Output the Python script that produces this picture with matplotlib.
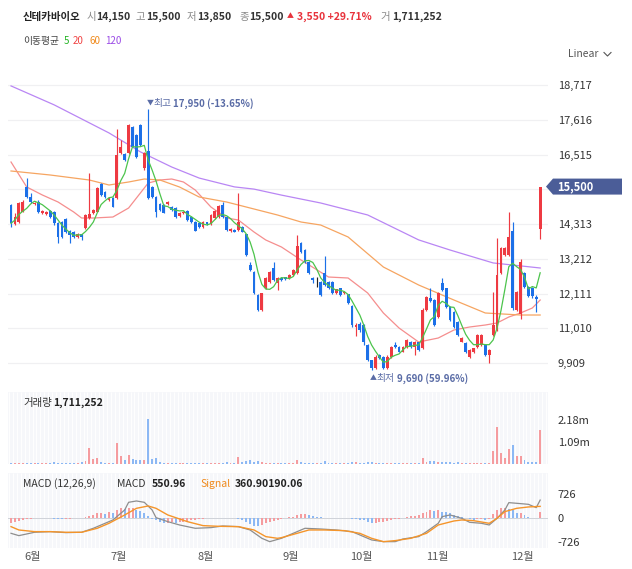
import matplotlib
matplotlib.use("Agg")
import matplotlib.pyplot as plt
from matplotlib.patches import Polygon
from matplotlib.lines import Line2D
import numpy as np
import pandas as pd

plt.rcParams['font.family'] = ['Noto Sans CJK KR', 'DejaVu Sans']

# ---- data (daily candles, won) ----
opens = [14916, 14314, 14388, 14705, 15497, 15180, 14950, 15021, 14652, 14631,
         14726, 14690, 14335, 14388, 14462, 14092, 14071, 13912, 13986, 14176,
         14493, 14652, 14705, 15571, 15338, 15074, 15127, 15127, 16553, 16532,
         16553, 17398, 17134, 17451, 16078, 16627, 15497, 15180, 14948, 14916,
         14948, 14863, 14810, 14567, 14652, 14726, 14546, 14388, 14335, 14229,
         14367, 14314, 14493, 14546, 14916, 14546, 14092, 14124, 14124, 14229,
         13986, 13014, 12803, 12064, 11588, 12275, 12486, 12909, 12434, 12592,
         12624, 12592, 12697, 12750, 13722, 13490, 13120, 12592, 12570, 12486,
         12750, 12486, 12486, 12117, 12275, 12117, 12085, 11720, 11060, 11150,
         11110, 10480, 10000, 9750, 10160, 10110, 9760, 10110, 10480, 10420,
         10270, 10420, 10590, 10430, 10560, 10370, 11590, 11960, 11905, 11377,
         12433, 12275, 11694, 11536, 11219, 10585, 10532, 10110, 10268, 10427,
         10480, 10480, 10163, 10796, 10955, 12751, 13331, 13331, 14100, 11589,
         11450, 12750, 12330, 12300, 12010, 14150]
highs = [14948, 14652, 15021, 15060, 15761, 15307, 15010, 15074, 14760, 14730,
         14757, 14720, 14380, 14420, 14500, 14124, 14100, 14020, 14010, 14630,
         15919, 14800, 15480, 15600, 15370, 15160, 15160, 17314, 16976, 16560,
         17480, 17420, 17160, 17480, 16600, 17950, 15520, 15210, 14980, 14950,
         15050, 14890, 14840, 14680, 14730, 14760, 14570, 14410, 14360, 14410,
         14390, 14620, 14750, 14910, 15021, 14570, 14180, 14150, 15307, 14250,
         14010, 13120, 12830, 12090, 12140, 12620, 12830, 13120, 12620, 12620,
         12650, 12720, 12880, 13965, 13750, 13520, 13150, 12620, 12645, 12510,
         13300, 12510, 12510, 12270, 12300, 12200, 12110, 11750, 11170, 11200,
         11130, 10520, 10020, 10160, 10190, 10140, 10150, 10450, 10580, 10450,
         10450, 10670, 10620, 10620, 10590, 11640, 12040, 12275, 11940, 12150,
         12590, 12300, 11720, 11560, 11240, 10720, 10560, 10350, 10400, 10820,
         10820, 10510, 10350, 12170, 13860, 13570, 13570, 14705, 14390, 12200,
         13200, 12800, 12360, 12330, 12080, 15500]
lows = [14229, 14282, 14350, 14680, 15150, 14990, 14930, 14673, 14630, 14610,
        14500, 14282, 13722, 13860, 14020, 13701, 13880, 13880, 13807, 14140,
        14460, 14620, 14680, 15200, 15150, 15050, 14840, 15100, 16520, 16310,
        16520, 16740, 16420, 16790, 16040, 15100, 15150, 14546, 14730, 14650,
        14920, 14730, 14520, 14540, 14630, 14410, 14360, 14080, 14200, 14200,
        14290, 14290, 14470, 14520, 14520, 14100, 14070, 14050, 14100, 14050,
        13300, 12820, 12090, 11560, 11560, 12250, 12460, 12510, 12222, 12510,
        12540, 12570, 12670, 12720, 13410, 13090, 12720, 12460, 12328, 12040,
        12350, 12250, 12090, 12090, 12040, 12090, 11770, 11060, 10750, 10900,
        10480, 9980, 9690, 9720, 10030, 9720, 9730, 10080, 10400, 10250,
        10250, 10400, 10400, 10160, 10300, 10340, 11560, 11830, 11080, 11340,
        12190, 11660, 11240, 11030, 10770, 10560, 10240, 10080, 10240, 10400,
        10450, 10140, 9898, 10770, 10930, 12720, 13300, 13300, 11600, 11560,
        11300, 12300, 11990, 11980, 11540, 13850]
closes = [14335, 14546, 14969, 15021, 15180, 15021, 14990, 14705, 14726, 14705,
          14525, 14335, 13912, 13912, 14071, 13965, 13912, 13986, 13912, 14599,
          14631, 14757, 15444, 15233, 15180, 15127, 14863, 16500, 16764, 16342,
          17451, 16764, 16448, 16817, 16553, 15127, 15180, 14705, 14757, 14673,
          15021, 14757, 14546, 14652, 14705, 14441, 14388, 14103, 14229, 14388,
          14314, 14599, 14726, 14884, 14546, 14124, 14155, 14071, 14388, 14071,
          13331, 12856, 12117, 11588, 12117, 12592, 12803, 12539, 12592, 12539,
          12560, 12697, 12856, 13627, 13437, 13120, 12750, 12539, 12570, 12064,
          12381, 12275, 12117, 12244, 12064, 12170, 11800, 11100, 11110, 10950,
          10590, 10000, 9740, 10110, 10060, 9760, 10110, 10420, 10420, 10270,
          10420, 10640, 10430, 10590, 10320, 11590, 12010, 11860, 11113, 12117,
          12222, 11694, 11272, 11061, 10796, 10691, 10268, 10321, 10374, 10796,
          10796, 10163, 10321, 11113, 12698, 13543, 13543, 13913, 11641, 12170,
          13100, 12330, 12040, 12020, 11950, 15500]
volumes = [40000, 50000, 60000, 40000, 30000,
           30000, 40000, 30000, 60000, 40000, 30000,
           80000, 60000, 50000, 40000, 40000, 30000, 40000, 80000, 150000,
           810000, 250000, 290000, 90000, 60000, 60000, 50000,
           1050000, 420000, 220000, 460000, 250000, 220000, 200000, 180000,
           2230000, 250000, 300000,
           80000, 60000, 50000, 40000, 50000, 40000, 30000, 40000, 40000, 30000,
           40000, 40000, 30000, 40000, 50000, 40000, 60000, 100000, 50000, 40000,
           370000, 120000, 150000, 180000, 120000, 150000, 80000, 60000, 60000,
           50000, 40000, 40000, 30000, 40000, 50000,
           220000, 90000, 70000, 60000, 50000, 40000,
           60000, 135000,
           60000, 50000, 40000, 50000, 40000, 60000, 100000, 90000, 60000, 70000,
           100000, 110000, 60000, 50000, 40000, 50000, 40000, 40000, 50000, 40000,
           50000, 60000, 40000, 50000,
           320000, 120000, 150000, 140000, 90000, 100000, 80000, 80000, 70000,
           100000, 50000, 60000, 50000, 40000, 40000, 40000, 50000, 50000,
           650000, 1840000, 575000, 290000, 730000, 930000, 390000, 420000,
           200000, 120000, 85000, 85000, 1711252]

# moving averages read at sampled candles (index, value)
ma20_idx = [0, 4, 8, 12, 16, 18, 21, 26, 30, 33, 35, 38, 41, 44, 47, 51, 55, 58, 62,
            65, 69, 74, 81, 86, 91, 95, 99, 104, 109, 113, 117, 121, 124, 127, 130, 133, 135]
ma20_val = [16279, 15487, 15233, 15011, 14694, 14504, 14504, 14536, 14821, 15296, 15613,
            15708, 15740, 15645, 15391, 14853, 14504, 14441, 14060, 13807, 13585, 13173,
            12634, 12603, 12127, 11494, 11018, 10574, 10701, 10955, 11050, 11113, 11177,
            11367, 11494, 11652, 11905]
ma60_idx = [0, 10, 20, 25, 30, 34, 38, 43, 48, 55, 60, 68, 74, 79, 86, 95, 104, 113, 121, 130, 135]
ma60_val = [15994, 15867, 15708, 15550, 15645, 15740, 15708, 15486, 15170, 15011, 14853,
            14599, 14377, 14282, 13902, 12951, 12381, 11905, 11494, 11430, 11430]
ma120_idx = [0, 11, 25, 33, 41, 48, 57, 62, 69, 79, 91, 104, 112, 123, 135]
ma120_val = [18690, 18090, 17200, 16600, 16120, 15770, 15490, 15420, 15230, 14980,
             14600, 13810, 13490, 13080, 12920]

# MACD (12,26,9) read at sampled candles
macd_idx = [0, 2, 6, 10, 14, 18, 21, 24, 26, 29, 30, 32, 34, 36, 37, 40, 43, 47, 51, 54,
            58, 61, 64, 66, 69, 73, 75, 79, 83, 87, 89, 92, 95, 98, 100, 104, 106, 109,
            110, 112, 115, 117, 120, 122, 124, 126, 127, 129, 132, 134, 135]
macd_val = [-454, -524, -423, -403, -433, -423, -302, -151, -50, 252, 484, 524, 484, 252,
            20, -101, -202, -302, -282, -232, -252, -353, -605, -706, -605, -403, -302,
            -323, -353, -403, -504, -655, -706, -706, -625, -554, -403, -151, 50, 101, 0,
            -121, -151, -202, 0, 252, 474, 454, 423, 323, 551]
signal_idx = [0, 2, 6, 10, 14, 18, 22, 25, 29, 32, 35, 37, 40, 45, 49, 53, 58, 62, 65, 68,
              69, 73, 76, 80, 85, 89, 92, 95, 98, 102, 106, 109, 113, 115, 118, 122, 124,
              126, 129, 132, 135]
signal_val = [-252, -353, -403, -403, -423, -423, -302, -151, 101, 302, 373, 302, 101, -101,
              -222, -242, -252, -353, -554, -605, -585, -454, -353, -353, -373, -454, -605,
              -706, -675, -605, -454, -202, -81, -50, -71, -151, 0, 202, 302, 343, 361]
hist = [-151, -120, -90, -50, -30, -10, -5, 5, 10, 5,
        -5, -10, -15, -20, -15, -10, -5, 5, 20, 40,
        80, 100, 150, 150, 140, 200, 150, 250, 300, 290,
        300, 300, 260, 220, 150, 80, -20, -60, -120, -150,
        -150, -120, -150, -120, -100, -80, -60, -40, -20, -10,
        10, 15, 20, 20, 15, 5, 5, 0, -20, -60,
        -120, -180, -220, -240, -200, -150, -100, -70, -40, -10,
        0, 30, 50, 100, 140, 140, 100, 60, 50, 30,
        20, 15, 10, 10, 10, 5, 0, -10, -30, -50,
        -60, -120, -150, -150, -120, -100, -80, -50, -30, -10,
        20, 40, 60, 80, 100, 150, 200, 250, 220, 250,
        200, 180, 150, 100, 60, 30, 10, -30, -40, -30,
        -30, -40, -20, 120, 250, 300, 300, 280, 250, 150,
        150, 100, 50, 10, 0, 190]

price_ticks = [9909, 11010, 12111, 13212, 14313, 15414, 16515, 17616, 18717]
month_pos = [5.4, 27.5, 49.7, 71.4, 89.3, 108.7, 130.4]
month_labels = ['6월', '7월', '8월', '9월', '10월', '11월', '12월']

UP, DOWN = '#ee3a42', '#1c70e8'
UP_L, DOWN_L = '#f59c9f', '#8cb8f4'
W, H = 632, 569

fig = plt.figure(figsize=(W / 100, H / 100), dpi=100)


def px_axes(left, top, right, bottom):
    return fig.add_axes([left / W, 1 - bottom / H, (right - left) / W, (bottom - top) / H])


def clean(ax):
    for sp in ax.spines.values():
        sp.set_visible(False)
    ax.yaxis.tick_right()
    ax.tick_params(length=0, labelsize=8, labelcolor='#333333', pad=7)
    ax.set_xticks([])


n = len(closes)
idx = np.arange(n)
XLIM = (-0.77, 137.0)

# ---- price panel ----
PT, PB, PLO, PHI = 65, 372, 9624, 19353
ax = px_axes(8, PT, 548, PB)
clean(ax)
ax.set_xlim(*XLIM)
ax.set_ylim(PLO, PHI)
ax.set_yticks(price_ticks)
ax.set_yticklabels([f'{t:,}' if t != 15414 else '' for t in price_ticks])
ax.grid(axis='y', color='#f0f0f2', lw=0.9)
ax.set_axisbelow(True)

for i in range(n):
    o, h, l, c = opens[i], highs[i], lows[i], closes[i]
    col = UP if c > o else (DOWN if c < o else '#222222')
    ax.vlines(i, l, h, color=col, lw=0.85, zorder=3)
    body = max(abs(c - o), 25)
    ax.bar(i, body, bottom=min(o, c) - (body - abs(c - o)) / 2, width=0.72,
           color=col, lw=0, zorder=3)

ma5 = pd.Series(closes).rolling(5, min_periods=1).mean()
ax.plot(idx, ma5, color='#4cc44c', lw=0.9, zorder=4)
ax.plot(ma20_idx, ma20_val, color='#f58e8e', lw=0.9, zorder=2)
ax.plot(ma60_idx, ma60_val, color='#f6a561', lw=0.9, zorder=2)
ax.plot(ma120_idx, ma120_val, color='#b986f4', lw=0.9, zorder=2)

# high / low markers
ANN = '#5a6ca6'
imax = int(np.argmax(highs))
imin = int(np.argmin(lows))
hi_pct = (closes[-1] / highs[imax] - 1) * 100
lo_pct = (closes[-1] / lows[imin] - 1) * 100
for dx, s, fw, fs in [(-1.2, '▼', 'normal', 5), (3.6, '최고', 'normal', 7),
                      (18, f'{highs[imax]:,} ({hi_pct:.2f}%)', 'bold', 7)]:
    ax.annotate(s, xy=(imax, highs[imax]), xytext=(dx, 4.5), textcoords='offset points',
                ha='left', va='center', color=ANN, fontsize=fs, fontweight=fw)
for dx, s, fw, fs in [(-1.2, '▲', 'normal', 5), (3.6, '최저', 'normal', 7),
                      (18, f'{lows[imin]:,} ({lo_pct:.2f}%)', 'bold', 7)]:
    ax.annotate(s, xy=(imin, lows[imin]), xytext=(dx, -6), textcoords='offset points',
                ha='left', va='center', color=ANN, fontsize=fs, fontweight=fw,
                annotation_clip=False)

# ---- volume panel ----
BG = '#f6f7fa'
axv = px_axes(8, 392, 548, 464)
clean(axv)
axv.set_facecolor(BG)
axv.set_xlim(*XLIM)
axv.set_ylim(0, 3.6e6)
axv.vlines(np.arange(-0.5, n + 1), 0, 3.6e6, color='white', lw=0.7, zorder=0)
vcols = [UP_L if closes[i] >= opens[i] else DOWN_L for i in range(n)]
axv.bar(idx, volumes, width=0.5, color=vcols, lw=0, zorder=2)
axv.set_yticks([1.09e6, 2.18e6])
axv.set_yticklabels(['1.09m', '2.18m'])

# ---- MACD panel ----
axm = px_axes(8, 473, 548, 548)
for sp in axm.spines.values():
    sp.set_visible(False)
axm.yaxis.tick_right()
axm.set_facecolor(BG)
axm.set_xlim(*XLIM)
axm.set_ylim(-898, 1370)
axm.vlines(np.arange(-0.5, n + 1), -898, 1370, color='white', lw=0.7, zorder=0)
axm.axhline(0, color='#cfd2d8', lw=0.7, zorder=1)
hcols = [UP_L if (i == 0 or hist[i] >= hist[i - 1]) else DOWN_L for i in range(n)]
axm.bar(idx, hist, width=0.5, color=hcols, lw=0, zorder=2)
axm.plot(macd_idx, macd_val, color='#8e8e8e', lw=0.9, zorder=3)
axm.plot(signal_idx, signal_val, color='#f5952a', lw=1.0, zorder=4)
axm.set_yticks([-726, 0, 726])
axm.set_yticklabels(['-726', '0', '726'])
axm.set_xticks(month_pos)
axm.set_xticklabels(month_labels)
axm.tick_params(axis='y', length=0, labelsize=8, labelcolor='#333333', pad=7)
axm.tick_params(axis='x', length=0, labelsize=8, labelcolor='#555555', pad=3)

# ---- overlay texts (pixel coordinates) ----
ov = fig.add_axes([0, 0, 1, 1], zorder=10)
ov.set_xlim(0, W)
ov.set_ylim(H, 0)
ov.axis('off')


def put(x, y, s, color='#222222', size=7.5, weight='normal'):
    ov.text(x, y, s, color=color, fontsize=size, fontweight=weight, ha='left', va='center')


GRAY = '#8a8a8a'
RED = '#e8333c'
put(23, 17, '신테카바이오', weight='bold')
for x, s, bold in [(87, '시', False), (96, '14,150', True), (136, '고', False),
                   (146, '15,500', True), (187, '저', False), (197, '13,850', True),
                   (239, '종', False), (249, '15,500', True), (392, '1,711,252', True),
                   (380, '거', False)]:
    put(x, 17, s, color='#333333' if bold else GRAY, weight='bold' if bold else 'normal')
put(287, 16.5, '▲', color=RED, size=5)
put(297, 17, '3,550 +29.71%', color=RED, weight='bold')

put(23, 41, '이동평균', color='#444444', size=7)
put(64, 41, '5', color='#22b322', size=7)
put(73, 41, '20', color='#f04444', size=7)
put(89, 41, '60', color='#f08a1c', size=7)
put(105, 41, '120', color='#9a4be6', size=7)

put(568, 54, 'Linear', color='#555555', size=7.5)
ov.add_line(Line2D([604, 607.5, 611], [52.5, 56, 52.5], color='#555555', lw=0.8))

put(23, 403, '거래량', color='#333333', size=7.5)
put(53, 403, f'{volumes[-1]:,}', weight='bold', size=7.5)

put(23, 484, 'MACD (12,26,9)', color='#333333', size=7.5)
put(117, 484, 'MACD', color='#333333', size=7.5)
put(152, 484, '550.96', weight='bold', size=7.5)
put(200, 484, 'Signal', color='#f08a1c', size=7.5)
put(235, 484, '360.90190.06', weight='bold', size=7.5)

# current price tag
yc = PB - (closes[-1] - PLO) / (PHI - PLO) * (PB - PT)
ov.add_patch(Polygon([(546, yc), (553, yc - 8), (622, yc - 8), (622, yc + 8), (553, yc + 8)],
                     closed=True, color='#4b5d98', lw=0))
put(557, yc, f'{closes[-1]:,}', color='white', size=8, weight='bold')

fig.savefig('out.png', dpi=100)
